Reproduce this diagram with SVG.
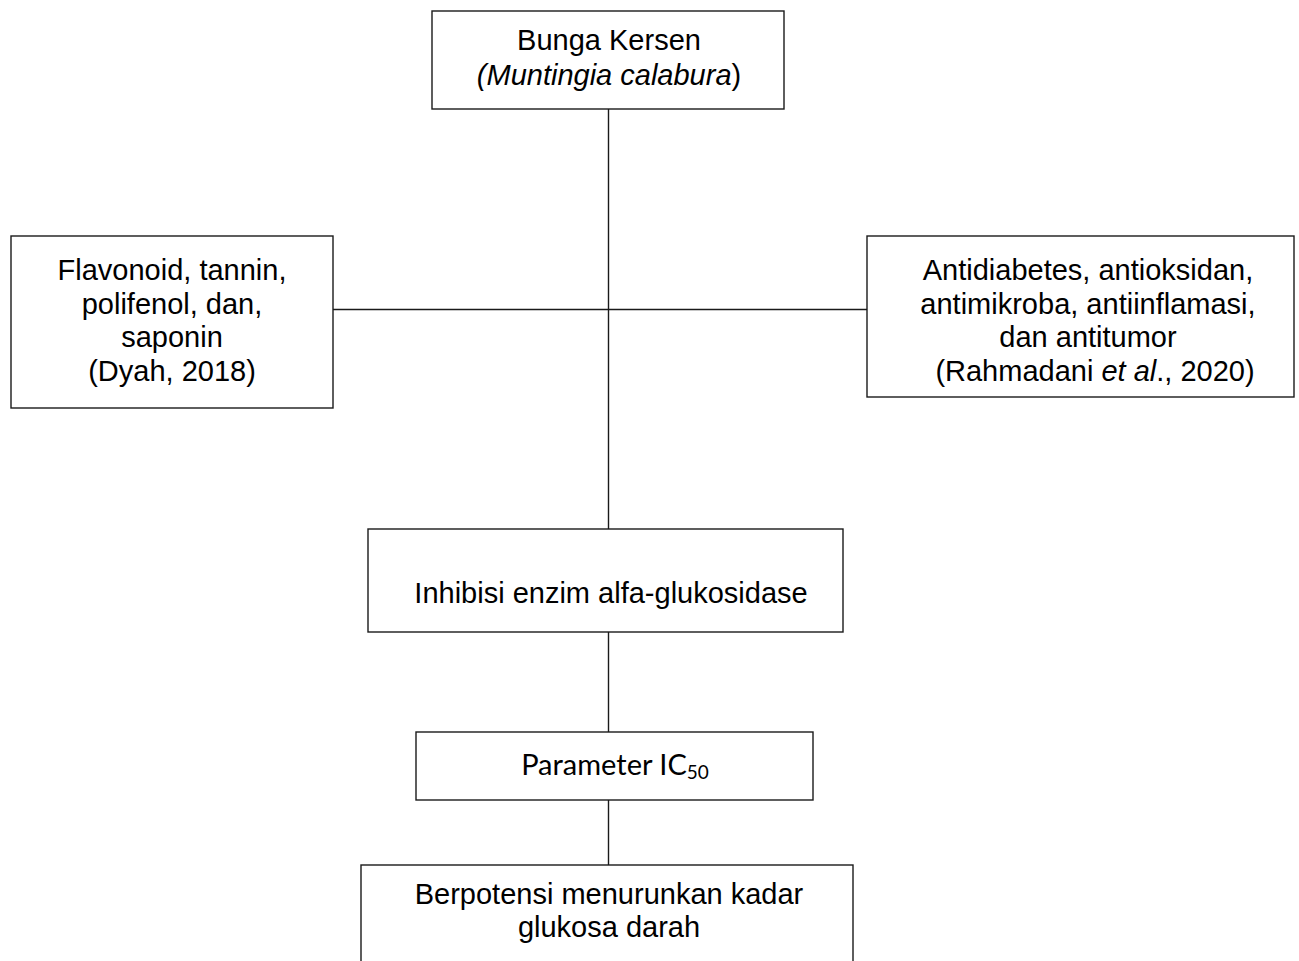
<svg xmlns="http://www.w3.org/2000/svg" width="1299" height="961" viewBox="0 0 1299 961">
<style>
.box{fill:#fff;stroke:#1a1a1a;stroke-width:1.4}
.ln{stroke:#1a1a1a;stroke-width:1.4;fill:none}
.t{font-family:"Liberation Sans",Arial,sans-serif;font-size:29px;fill:#000;text-anchor:middle}
.c{font-family:Lato,"Open Sans",sans-serif;font-size:29px;fill:#000;text-anchor:middle}
</style>
<rect width="1299" height="961" fill="#fff"/>
<g id="connectors">
<line class="ln" x1="608.5" y1="109" x2="608.5" y2="529"/>
<line class="ln" x1="333" y1="309.5" x2="867" y2="309.5"/>
<line class="ln" x1="608.5" y1="632" x2="608.5" y2="732"/>
<line class="ln" x1="608.5" y1="800" x2="608.5" y2="865"/>
</g>
<g id="n-bunga">
<rect class="box" x="432" y="11" width="352" height="98"/>
<text class="t" x="609" y="50">Bunga Kersen</text>
<text class="t" x="609" y="85"><tspan font-style="italic">(Muntingia calabura</tspan>)</text>
</g>
<g id="n-senyawa">
<rect class="box" x="11" y="236" width="322" height="172"/>
<text class="t" x="172" y="280">Flavonoid, tannin,</text>
<text class="t" x="172" y="314">polifenol, dan,</text>
<text class="t" x="172" y="347">saponin</text>
<text class="t" x="172" y="381">(Dyah, 2018)</text>
</g>
<g id="n-aktivitas">
<rect class="box" x="867" y="236" width="427" height="161"/>
<text class="t" x="1088" y="280">Antidiabetes, antioksidan,</text>
<text class="t" x="1088" y="314">antimikroba, antiinflamasi,</text>
<text class="t" x="1088" y="347">dan antitumor</text>
<text class="t" x="1095" y="381">(Rahmadani <tspan font-style="italic">et al</tspan>., 2020)</text>
</g>
<g id="n-inhibisi">
<rect class="box" x="368" y="529" width="475" height="103"/>
<text class="t" x="611" y="603">Inhibisi enzim alfa-glukosidase</text>
</g>
<g id="n-ic50">
<rect class="box" x="416" y="732" width="397" height="68"/>
<text class="c" x="615" y="775">Parameter IC<tspan font-size="19" dy="4">50</tspan></text>
</g>
<g id="n-potensi">
<rect class="box" x="361" y="865" width="492" height="110"/>
<text class="t" x="609" y="904">Berpotensi menurunkan kadar</text>
<text class="t" x="609" y="937">glukosa darah</text>
</g>
</svg>
